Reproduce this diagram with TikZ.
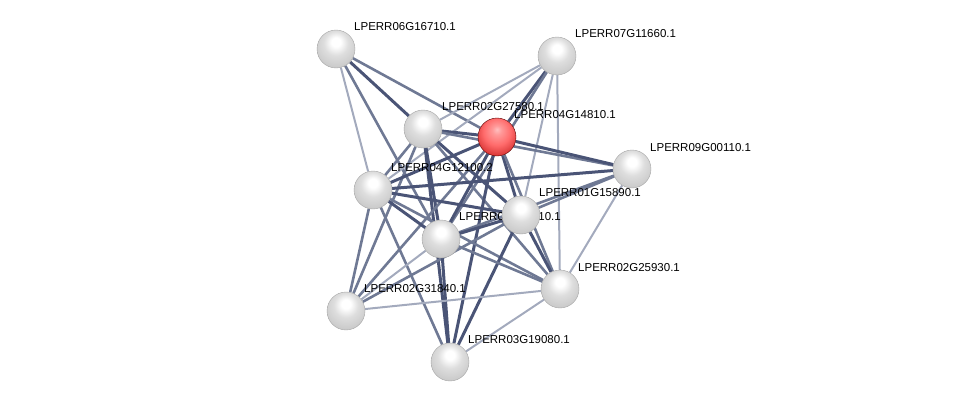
\documentclass[tikz,border=0pt]{standalone}
\usepackage{fontspec}
\setsansfont{Liberation Sans}
\usetikzlibrary{backgrounds}

\definecolor{edgedark}{HTML}{4A5476}
\definecolor{edgemid}{HTML}{6F7994}
\definecolor{edgelight}{HTML}{A3AABD}
\pgfdeclareradialshading{protball}{\pgfpoint{0bp}{10bp}}{color(0bp)=(white); color(6bp)=(white); color(16bp)=(gray!26); color(28bp)=(gray!40); color(40bp)=(gray!58); color(50bp)=(gray!78); color(64bp)=(gray!90)}
\pgfdeclareradialshading{queryball}{\pgfpoint{0bp}{10bp}}{color(0bp)=(red!25!white); color(6bp)=(red!40!white); color(18bp)=(red!58!white); color(32bp)=(red!65!gray); color(44bp)=(red!60!black); color(64bp)=(red!40!black)}

\begin{document}
\begin{tikzpicture}[
  x=1pt, y=-1pt,
  prot/.style={circle, minimum size=38pt, inner sep=0pt, shading=protball, draw=gray!70, line width=0.4pt},
  query/.style={prot, shading=queryball, draw=red!35!black},
  lbl/.style={anchor=west, inner sep=0pt, font=\sffamily\fontsize{11.5}{13}\selectfont},
  strong/.style={draw=edgedark, line width=3pt},
  medium/.style={draw=edgemid, line width=2.6pt},
  weak/.style={draw=edgelight, line width=2pt}
]
\useasboundingbox (0,0) rectangle (975,407);

% proteins
\node[prot]  (p06G16710) at (336,49)  {};
\node[prot]  (p07G11660) at (557,56)  {};
\node[prot]  (p02G27580) at (423,129) {};
\node[query] (p04G14810) at (497,137) {};
\node[prot]  (p09G00110) at (632,169) {};
\node[prot]  (p04G12100) at (373,190) {};
\node[prot]  (pHidden)   at (441,239) {};
\node[prot]  (p01G15890) at (521,215) {};
\node[prot]  (p02G25930) at (560,289) {};
\node[prot]  (p02G31840) at (346,311) {};
\node[prot]  (p03G19080) at (450,362) {};

\begin{scope}[on background layer]
% interactions
\draw[strong] (p06G16710) -- (p02G27580);
\draw[medium] (p06G16710) -- (p04G14810);
\draw[weak]   (p06G16710) -- (p04G12100);
\draw[medium] (p06G16710) -- (pHidden);
\draw[weak]   (p07G11660) -- (p02G27580);
\draw[strong] (p07G11660) -- (p04G14810);
\draw[weak]   (p07G11660) -- (p04G12100);
\draw[medium] (p07G11660) -- (pHidden);
\draw[weak]   (p07G11660) -- (p01G15890);
\draw[weak]   (p07G11660) -- (p02G25930);
\draw[strong] (p02G27580) -- (p04G14810);
\draw[medium] (p02G27580) -- (p09G00110);
\draw[medium] (p02G27580) -- (p04G12100);
\draw[strong] (p02G27580) -- (p01G15890);
\draw[strong] (p02G27580) -- (pHidden);
\draw[medium] (p02G27580) -- (p02G25930);
\draw[medium] (p02G27580) -- (p02G31840);
\draw[strong] (p02G27580) -- (p03G19080);
\draw[strong] (p04G14810) -- (p09G00110);
\draw[strong] (p04G14810) -- (p04G12100);
\draw[strong] (p04G14810) -- (p01G15890);
\draw[strong] (p04G14810) -- (pHidden);
\draw[medium] (p04G14810) -- (p02G25930);
\draw[medium] (p04G14810) -- (p02G31840);
\draw[strong] (p04G14810) -- (p03G19080);
\draw[strong] (p09G00110) -- (p04G12100);
\draw[medium] (p09G00110) -- (p01G15890);
\draw[medium] (p09G00110) -- (pHidden);
\draw[weak]   (p09G00110) -- (p02G25930);
\draw[strong] (p04G12100) -- (p01G15890);
\draw[strong] (p04G12100) -- (pHidden);
\draw[medium] (p04G12100) -- (p02G25930);
\draw[medium] (p04G12100) -- (p02G31840);
\draw[medium] (p04G12100) -- (p03G19080);
\draw[strong] (p01G15890) -- (pHidden);
\draw[strong] (p01G15890) -- (p02G25930);
\draw[medium] (p01G15890) -- (p02G31840);
\draw[strong] (p01G15890) -- (p03G19080);
\draw[medium] (pHidden) -- (p02G25930);
\draw[weak]   (pHidden) -- (p02G31840);
\draw[strong] (pHidden) -- (p03G19080);
\draw[weak]   (p02G25930) -- (p02G31840);
\draw[weak]   (p02G25930) -- (p03G19080);

% names
\node[lbl] (l06G16710) at ([shift={(18,-22)}]p06G16710.center) {LPERR06G16710.1};
\node[lbl] (l07G11660) at ([shift={(18,-22)}]p07G11660.center) {LPERR07G11660.1};
\node[lbl] (l02G27580) at ([shift={(19,-22)}]p02G27580.center) {LPERR02G27580.1};
\node[lbl] (l04G14810) at ([shift={(17,-22)}]p04G14810.center) {LPERR04G14810.1};
\node[lbl] (l09G00110) at ([shift={(18,-21)}]p09G00110.center) {LPERR09G00110.1};
\node[lbl] (l04G12100) at ([shift={(18,-22)}]p04G12100.center) {LPERR04G12100.2};
\node[lbl] (lHidden)   at ([shift={(18,-22)}]pHidden.center)   {LPERR01G15910.1};
\node[lbl] (l01G15890) at ([shift={(18,-22)}]p01G15890.center) {LPERR01G15890.1};
\node[lbl] (l02G25930) at ([shift={(18,-21)}]p02G25930.center) {LPERR02G25930.1};
\node[lbl] (l02G31840) at ([shift={(18,-22)}]p02G31840.center) {LPERR02G31840.1};
\node[lbl] (l03G19080) at ([shift={(18,-22)}]p03G19080.center) {LPERR03G19080.1};
\end{scope}
\end{tikzpicture}
\end{document}
